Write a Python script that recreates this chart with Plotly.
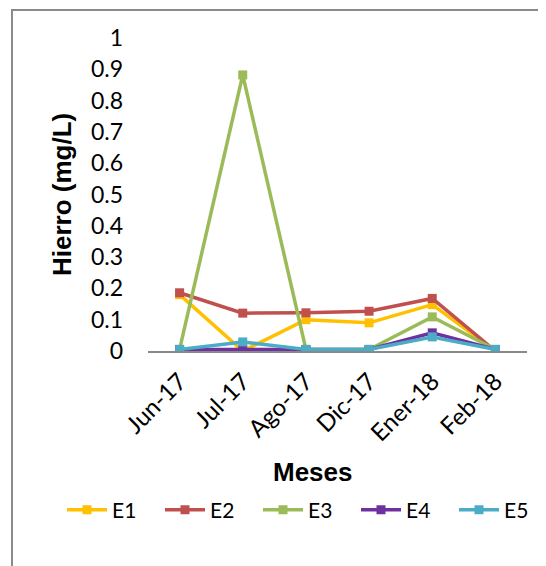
import plotly.graph_objects as go

categories = ["Jun-17", "Jul-17", "Ago-17", "Dic-17", "Ener-18", "Feb-18"]
e1 = [0.18, 0.0, 0.10, 0.09, 0.148, 0.0]
e2 = [0.186, 0.121, 0.122, 0.127, 0.168, 0.0]
e3 = [0.005, 0.882, 0.005, 0.005, 0.109, 0.005]
e4 = [0.005, 0.005, 0.005, 0.005, 0.058, 0.005]
e5 = [0.005, 0.029, 0.005, 0.005, 0.045, 0.005]
series = [("E1", e1, "#FFC000"), ("E2", e2, "#C0504D"), ("E3", e3, "#9BBB59"),
          ("E4", e4, "#7030A0"), ("E5", e5, "#4BACC6")]
y_ticks = [0, 0.1, 0.2, 0.3, 0.4, 0.5, 0.6, 0.7, 0.8, 0.9, 1]
y_labels = ["0", "0.1", "0.2", "0.3", "0.4", "0.5", "0.6", "0.7", "0.8", "0.9", "1"]

fig = go.Figure()
for name, vals, col in series:
    fig.add_trace(go.Scatter(x=categories, y=vals, name=name, mode="lines+markers",
                             line=dict(color=col, width=3.5),
                             marker=dict(symbol="square", size=9, color=col)))

OFF = 8  # page body margin
W, H = 546 - OFF, 566 - OFF
L, T = 148 - OFF, 38 - OFF
R = W - (527 - OFF)
B = H - (351 - OFF)
pw, ph = W - L - R, H - T - B

def px(x):
    return (x - OFF - L) / pw

def py(y):
    return (H - B - (y - OFF)) / ph

fig.update_layout(
    width=W, height=H, margin=dict(l=L, r=R, t=T, b=B, autoexpand=False),
    paper_bgcolor="white", plot_bgcolor="white",
    showlegend=True,
    legend=dict(orientation="h", x=px(62), xanchor="left", y=py(510), yanchor="middle",
                font=dict(family="Lato, Open Sans, sans-serif", size=21, color="black"),
                itemwidth=40, entrywidth=43, entrywidthmode="pixels", tracegroupgap=0,
                bgcolor="rgba(0,0,0,0)"),
    xaxis=dict(type="category", range=[-0.5, 5.5], showgrid=False, showline=True,
               linecolor="#898989", linewidth=1.5, ticks="", tickangle=-45,
               tickfont=dict(family="Lato, Open Sans, sans-serif", size=24, color="black"),
               ticklabelstandoff=5, automargin=False),
    yaxis=dict(range=[0, 1], tickvals=y_ticks, ticktext=y_labels, showgrid=False,
               showline=False, zeroline=False, ticks="",
               tickfont=dict(family="Lato, Open Sans, sans-serif", size=23, color="black"),
               ticklabelstandoff=24, automargin=False),
    annotations=[
        dict(text="<b>Meses</b>", xref="paper", yref="paper", x=px(313), y=py(472),
             xanchor="center", yanchor="middle", showarrow=False,
             font=dict(family="Liberation Sans, Arial", size=26, color="black")),
        dict(text="<b>Hierro (mg/L)</b>", xref="paper", yref="paper", x=px(62), y=py(195),
             xanchor="center", yanchor="middle", showarrow=False, textangle=-90,
             font=dict(family="Liberation Sans, Arial", size=26, color="black")),
    ],
    shapes=[dict(type="rect", xref="paper", yref="paper", x0=px(12), x1=px(570),
                 y0=py(590), y1=py(10), line=dict(color="#8a8a8a", width=2))],
)
fig.write_html("out.html")
